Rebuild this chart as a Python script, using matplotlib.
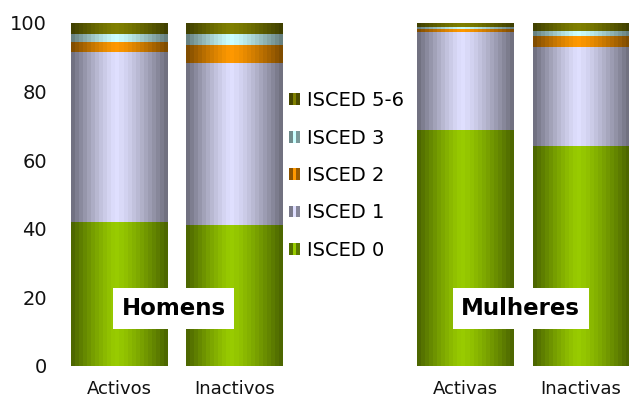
import numpy as np
import matplotlib
matplotlib.use("Agg")
import matplotlib.pyplot as plt
from matplotlib.patches import Rectangle
from matplotlib.colors import to_rgb

categories = ["Activos", "Inactivos", "Activas", "Inactivas"]
groups = ["Homens", "Mulheres"]
series_names = ["ISCED 0", "ISCED 1", "ISCED 2", "ISCED 3", "ISCED 5-6"]
isced0 = [41.9, 41.0, 68.8, 64.1]
isced1 = [49.7, 47.4, 28.6, 29.0]
isced2 = [2.9, 5.2, 0.8, 3.2]
isced3 = [2.3, 3.2, 0.6, 1.4]
isced56 = [3.2, 3.2, 1.2, 2.3]
yticks = [0, 20, 40, 60, 80, 100]

series = [isced0, isced1, isced2, isced3, isced56]
colors = ["#99CC00", "#E0E0FF", "#FF9900", "#CCFFFF", "#808000"]
positions = [0, 1, 3, 4]
width = 0.835

fig = plt.figure(figsize=(6.29, 4.01), dpi=100)
ax = fig.add_axes([60 / 629, 35.3 / 401, 1 - 60 / 629, (365.7 - 23) / 401])

ncols = 24
t = (np.arange(ncols) + 0.5) / ncols
c0 = 0.47
d = np.where(t < c0, (c0 - t) / c0, (t - c0) / (1 - c0))
prof = 1 - 0.52 * d ** 1.25


def grad_img(color):
    c = np.array(to_rgb(color))
    img = prof[:, None] * c[None, :]
    return img[None, :, :]


bottom = np.zeros(len(categories))
for vals, col, name in zip(series, colors, series_names):
    bars = ax.bar(positions, vals, width=width, bottom=bottom, color=col,
                  label=name, linewidth=0)
    for p in bars.patches:
        x0, y0 = p.get_x(), p.get_y()
        w, h = p.get_width(), p.get_height()
        im = ax.imshow(grad_img(col), extent=(x0, x0 + w, y0, y0 + h),
                       aspect="auto", interpolation="nearest", zorder=2)
        im.set_clip_path(p)
    bottom += np.array(vals)

ax.set_xlim(-0.513, 4.4175)
ax.set_ylim(0, 100)
ax.set_yticks(yticks)
ax.set_yticklabels([str(v) for v in yticks])
ax.set_xticks(positions)
ax.set_xticklabels(categories)
ax.tick_params(axis="y", length=0, labelsize=14, colors="#111111", pad=9.5)
ax.tick_params(axis="x", length=0, labelsize=13, colors="#111111", pad=10)
for s in ax.spines.values():
    s.set_visible(False)

# group labels
for g, xc in zip(groups, [(positions[0] + positions[1]) / 2 - 0.03,
                          (positions[2] + positions[3]) / 2 - 0.02]):
    ax.text(xc, 16.7, g, ha="center", va="center", fontsize=16.5,
            fontweight="bold", zorder=5,
            bbox=dict(boxstyle="square,pad=0.38", fc="white", ec="none"))


class GradHandler:
    def legend_artist(self, legend, orig_handle, fontsize, handlebox):
        x0, y0 = handlebox.xdescent, handlebox.ydescent
        w, h = handlebox.width, handlebox.height
        c = np.array(to_rgb(orig_handle.patches[0].get_facecolor()))
        fr = [0.55, 1.0, 0.6]
        r = None
        for i, f in enumerate(fr):
            r = Rectangle((-x0 + i * w / 3, -y0), w / 3, h,
                          facecolor=c * f, edgecolor="none",
                          transform=handlebox.get_transform())
            handlebox.add_artist(r)
        return r


handles, labels = ax.get_legend_handles_labels()
handles = handles[::-1]
labels = labels[::-1]
hmap = {h: GradHandler() for h in handles}
leg = fig.legend(handles, labels, loc="center left",
                 bbox_to_anchor=(289 / 629, 1 - 175.5 / 401), frameon=False,
                 fontsize=14, handlelength=0.55, handleheight=0.55,
                 handletextpad=0.4, labelspacing=0.95, borderpad=0,
                 borderaxespad=0, handler_map=hmap)

fig.savefig("out.png", dpi=100)
